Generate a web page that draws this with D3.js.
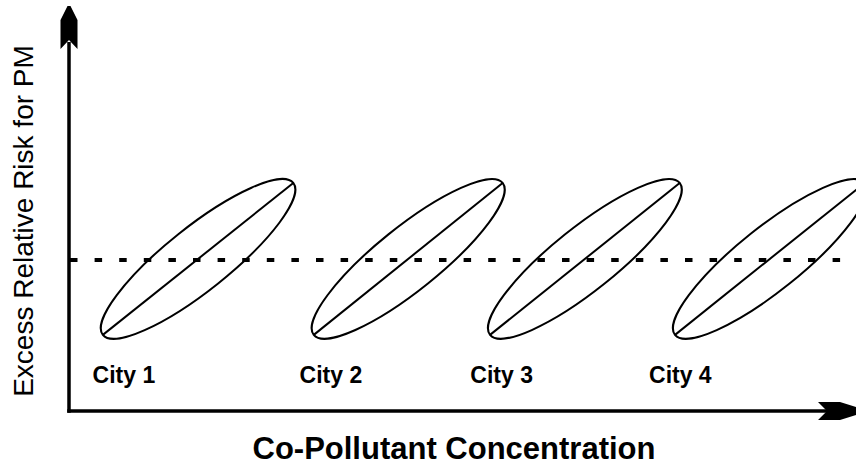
<!DOCTYPE html>
<meta charset="utf-8">
<style>

body {
  margin: 0;
  background: #fff;
}

text {
  font-family: "Liberation Sans", Arial, sans-serif;
  fill: #000;
}

.city {
  font-size: 23px;
  font-weight: bold;
}

.xtitle {
  font-size: 31px;
  font-weight: bold;
}

.ytitle {
  font-size: 28px;
}

</style>
<body>
<script src="https://cdnjs.cloudflare.com/ajax/libs/d3/7.8.5/d3.min.js"></script>
<script>

// cities and the ends of each city's ellipse (concentration, excess risk)
var cities = ["City 1", "City 2", "City 3", "City 4"];
var concLow  = [4.3, 31.1, 53.5, 77.0];
var concHigh = [28.5, 55.1, 77.6, 101.1];
var riskLow  = [18.8, 18.8, 18.8, 18.8];
var riskHigh = [56.3, 56.3, 56.3, 56.3];
var labelConc = [3.0, 29.3, 51.0, 73.7];
var labelRisk = 7;
var refRisk = 37.3;

var xTitle = "Co-Pollutant Concentration",
    yTitle = "Excess Relative Risk for PM";

var width = 856,
    height = 470;

var x = d3.scaleLinear().domain([0, 100]).range([69, 856]);
var y = d3.scaleLinear().domain([0, 100]).range([411, 6]);

var spread = 0.26; // minor / major axis ratio

var svg = d3.select("body").append("svg")
    .attr("width", width)
    .attr("height", height);

var data = cities.map(function(c, i) {
  return {
    name: c,
    x0: concLow[i], x1: concHigh[i],
    y0: riskLow[i], y1: riskHigh[i],
    lx: labelConc[i]
  };
});

// reference line
svg.append("line")
    .attr("x1", x(0) + 1)
    .attr("x2", width)
    .attr("y1", y(refRisk))
    .attr("y2", y(refRisk))
    .attr("stroke", "#000")
    .attr("stroke-width", 4)
    .attr("stroke-dasharray", "7.5,17.1");

var g = svg.selectAll(".city-g")
    .data(data)
  .enter().append("g")
    .attr("class", "city-g");

g.append("ellipse")
    .attr("transform", function(d) {
      var cx = (x(d.x0) + x(d.x1)) / 2,
          cy = (y(d.y0) + y(d.y1)) / 2,
          a = Math.atan2(y(d.y1) - y(d.y0), x(d.x1) - x(d.x0)) * 180 / Math.PI;
      return "translate(" + cx + "," + cy + ") rotate(" + a + ")";
    })
    .attr("rx", function(d) {
      return Math.hypot(x(d.x1) - x(d.x0), y(d.y1) - y(d.y0)) / 2;
    })
    .attr("ry", function(d) {
      return spread * Math.hypot(x(d.x1) - x(d.x0), y(d.y1) - y(d.y0)) / 2;
    })
    .attr("fill", "none")
    .attr("stroke", "#000")
    .attr("stroke-width", 2);

g.append("line")
    .attr("x1", function(d) { return x(d.x0); })
    .attr("y1", function(d) { return y(d.y0); })
    .attr("x2", function(d) { return x(d.x1); })
    .attr("y2", function(d) { return y(d.y1); })
    .attr("stroke", "#000")
    .attr("stroke-width", 2);

g.append("text")
    .attr("class", "city")
    .attr("x", function(d) { return x(d.lx); })
    .attr("y", y(labelRisk))
    .text(function(d) { return d.name; });

// axes with arrow heads
var ox = x(0), oy = y(0);

svg.append("line")
    .attr("x1", ox).attr("y1", oy + 1.75)
    .attr("x2", ox).attr("y2", 42)
    .attr("stroke", "#000")
    .attr("stroke-width", 3.5);

svg.append("line")
    .attr("x1", ox - 1.75).attr("y1", oy)
    .attr("x2", 830).attr("y2", oy)
    .attr("stroke", "#000")
    .attr("stroke-width", 3.5);

svg.append("path")
    .attr("d", "M" + (ox - 1.5) + ",6 L" + (ox + 1.5) + ",6 L" + (ox + 8.5) + ",20 L" + (ox + 8.5) + ",49 L" + ox + ",40 L" + (ox - 8.5) + ",49 L" + (ox - 8.5) + ",20Z")
    .attr("fill", "#000");

svg.append("path")
    .attr("d", "M856," + (oy - 4) + " L856," + (oy + 4) + " L840," + (oy + 9) + " L818," + (oy + 9) + " L827," + oy + " L818," + (oy - 9) + " L840," + (oy - 9) + "Z")
    .attr("fill", "#000");

// titles
svg.append("text")
    .attr("class", "xtitle")
    .attr("x", 454)
    .attr("y", 459)
    .attr("text-anchor", "middle")
    .text(xTitle);

svg.append("text")
    .attr("class", "ytitle")
    .attr("transform", "translate(33,221) rotate(-90)")
    .attr("text-anchor", "middle")
    .text(yTitle);

</script>
